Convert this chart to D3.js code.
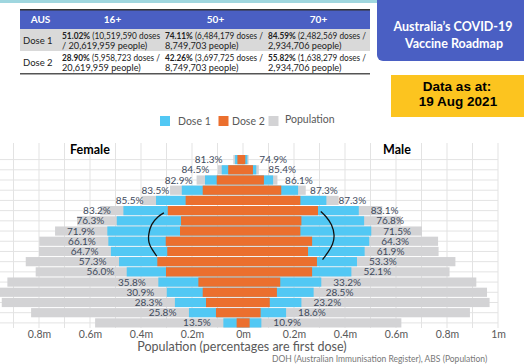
<!DOCTYPE html>
<html><head><meta charset="utf-8">
<script src="https://cdn.jsdelivr.net/npm/d3@7"></script>
<style>html,body{margin:0;padding:0;background:#fff;}svg{display:block;}</style>
</head><body>
<script>
// ---------- DATA ----------
const ageGroups = ["95+","90-94","85-89","80-84","75-79","70-74","65-69","60-64","55-59","50-54","45-49","40-44","35-39","30-34","25-29","20-24","16-19"];
const femalePop   = [0.038,0.098,0.182,0.286,0.397,0.560,0.651,0.737,0.799,0.800,0.852,0.813,0.924,0.968,0.946,0.831,0.580];
const femaleDose1 = [0.031,0.0835,0.149,0.240,0.341,0.469,0.495,0.532,0.528,0.518,0.486,0.456,0.332,0.299,0.267,0.212,0.077];
const femaleDose2 = [0.022,0.058,0.103,0.158,0.225,0.295,0.243,0.247,0.303,0.297,0.336,0.302,0.175,0.158,0.145,0.106,0.025];
const femalePct   = ["81.3%","84.5%","82.9%","83.5%","85.5%","83.2%","76.3%","71.9%","66.1%","64.7%","57.3%","56.0%","35.8%","30.9%","28.3%","25.8%","13.5%"];
const malePop     = [0.022,0.062,0.135,0.246,0.375,0.546,0.620,0.702,0.765,0.767,0.833,0.810,0.915,0.957,0.967,0.890,0.621];
const maleDose1   = [0.017,0.052,0.118,0.216,0.327,0.454,0.475,0.503,0.495,0.477,0.447,0.425,0.307,0.277,0.229,0.169,0.072];
const maleDose2   = [0.009,0.039,0.082,0.150,0.225,0.294,0.229,0.225,0.271,0.255,0.290,0.271,0.146,0.133,0.105,0.069,0.026];
const malePct     = ["74.9%","85.4%","86.1%","87.3%","87.3%","83.1%","76.8%","71.5%","64.3%","61.9%","53.3%","52.1%","33.2%","28.5%","23.2%","18.6%","10.9%"];
const axisTicks   = [-0.8,-0.6,-0.4,-0.2,0,0.2,0.4,0.6,0.8,1];
const legendItems = ["Dose 1","Dose 2","Population"];
// table
const tableCols = ["AUS","16+","50+","70+"];
const tableRows = ["Dose 1","Dose 2"];
const tableCells = [
  [["51.02%"," (10,519,590 doses","/ 20,619,959 people)"],["74.11%"," (6,484,179 doses /","8,749,703 people)"],["84.59%"," (2,482,569 doses /","2,934,706 people)"]],
  [["28.90%"," (5,958,723 doses /","20,619,959 people)"],["42.26%"," (3,697,725 doses /","8,749,703 people)"],["55.82%"," (1,638,279 doses /","2,934,706 people)"]]
];
// hand-drawn annotation curves (x in millions, y in row index)
const leftCurve  = [[-0.310,5.22],[-0.333,5.54],[-0.361,6.34],[-0.371,7.33],[-0.371,8.12],[-0.357,8.81],[-0.338,9.46]];
const rightCurve = [[0.305,5.08],[0.325,5.54],[0.349,6.34],[0.360,7.43],[0.353,8.32],[0.333,9.11],[0.312,9.80]];

// ---------- STYLE ----------
const C = {blue:"#52c8f4", orange:"#eb6f2e", gray:"#d3d3d5", grid:"#e3e3e3", text:"#595959", label:"#3e4a5c"};
const F = "Lato, 'Open Sans', sans-serif";

const svg = d3.select("body").append("svg").attr("width",524).attr("height",364);

// top teal strip
svg.append("rect").attr("x",0).attr("y",0).attr("width",378).attr("height",3).attr("fill","#9fd6df");

// ---------- TABLE ----------
const colX = [20,61,164,267,370];
const tb = svg.append("g");
tb.append("rect").attr("x",20).attr("y",10).attr("width",350).attr("height",19).attr("fill","#4a5fc3");
tb.append("rect").attr("x",20).attr("y",29).attr("width",350).attr("height",22).attr("fill","#d9d9d9");
tb.append("rect").attr("x",20).attr("y",9).attr("width",350).attr("height",1.5).attr("fill","#333");
tb.append("rect").attr("x",20).attr("y",73).attr("width",350).attr("height",1.5).attr("fill","#555");
tableCols.forEach((c,i)=>{
  tb.append("text").attr("x",(colX[i]+colX[i+1])/2).attr("y",23).attr("text-anchor","middle")
    .attr("fill","#fff").attr("font-family",F).attr("font-weight","bold").attr("font-size",10).text(c);
});
const rowTop=[29,51];
tableRows.forEach((r,ri)=>{
  tb.append("text").attr("x",23).attr("y",rowTop[ri]+14.5).attr("fill","#222").attr("font-family",F)
    .attr("font-size",9.5).text(r);
  tableCells[ri].forEach((cell,ci)=>{
    const x0 = colX[ci+1]+1;
    const t1 = tb.append("text").attr("x",x0).attr("y",rowTop[ri]+9.5).attr("fill","#222")
      .attr("font-family",F).attr("font-size",8.6);
    t1.append("tspan").attr("font-weight","bold").text(cell[0]);
    t1.append("tspan").text(cell[1]);
    const t2 = tb.append("text").attr("x",x0).attr("y",rowTop[ri]+20).attr("fill","#222")
      .attr("font-family",F).attr("font-size",9.2).text(cell[2]);
    [t1,t2].forEach(t=>{ if(t.node().getComputedTextLength()>98){ t.attr("textLength",98).attr("lengthAdjust","spacingAndGlyphs"); }});
  });
});

// ---------- TITLE BOXES ----------
svg.append("rect").attr("x",377).attr("y",-10).attr("width",160).attr("height",71).attr("rx",6).attr("fill","#4a5fc3");
svg.append("text").attr("x",453).attr("y",31).attr("text-anchor","middle").attr("fill","#fff")
  .attr("font-family",F).attr("font-weight","bold").attr("font-size",12.5).text("Australia’s COVID-19");
svg.append("text").attr("x",454).attr("y",47.5).attr("text-anchor","middle").attr("fill","#fff")
  .attr("font-family",F).attr("font-weight","bold").attr("font-size",12.5).text("Vaccine Roadmap");
svg.append("rect").attr("x",391).attr("y",75).attr("width",140).attr("height",42).attr("fill","#fcc41f");
svg.append("text").attr("x",457).attr("y",91).attr("text-anchor","middle").attr("fill","#000")
  .attr("font-family","'Liberation Sans', Arial, sans-serif").attr("font-weight","bold").attr("font-size",13.5).text("Data as at:");
svg.append("text").attr("x",458).attr("y",106).attr("text-anchor","middle").attr("fill","#000")
  .attr("font-family","'Liberation Sans', Arial, sans-serif").attr("font-weight","bold").attr("font-size",13.5).text("19 Aug 2021");

// ---------- LEGEND ----------
const legX = [160,218.5,268.5], legColors=[C.blue,C.orange,C.gray], legTX=[178,232,285];
legendItems.forEach((d,i)=>{
  svg.append("rect").attr("x",legX[i]).attr("y",116).attr("width",10).attr("height",10).attr("fill",legColors[i]);
  svg.append("text").attr("x",legTX[i]).attr("y",i==2?123:124.5).attr("fill",C.text).attr("font-family",F)
    .attr("font-size",10.5).text(d);
});

// ---------- PYRAMID ----------
const x = d3.scaleLinear().domain([-1,1]).range([-12,498]);
const y = d3.scaleBand().domain(ageGroups).range([155,327.5]).paddingInner(0.1);
const plotTop=143, plotBottom=328;

// vertical gridlines
const gl = d3.range(-9,11).map(i=>i/10);
svg.append("g").selectAll("line").data(gl).join("line")
  .attr("x1",d=>x(d)).attr("x2",d=>x(d)).attr("y1",plotTop).attr("y2",plotBottom)
  .attr("stroke",C.grid).attr("stroke-width",1);
// horizontal gridlines
svg.append("g").selectAll("line").data(ageGroups).join("line")
  .attr("x1",0).attr("x2",x(1)).attr("y1",d=>y(d)+y.bandwidth()/2).attr("y2",d=>y(d)+y.bandwidth()/2)
  .attr("stroke",C.grid).attr("stroke-width",1);

function side(vals, color, sign){
  svg.append("g").selectAll("rect").data(vals).join("rect")
    .attr("x",d=> sign<0 ? x(-d) : x(0))
    .attr("width",d=> sign<0 ? x(0)-x(-d) : x(d)-x(0))
    .attr("y",(d,i)=>y(ageGroups[i])).attr("height",y.bandwidth())
    .attr("fill",color);
}
side(femalePop,C.gray,-1); side(malePop,C.gray,1);
side(femaleDose1,C.blue,-1); side(maleDose1,C.blue,1);
side(femaleDose2,C.orange,-1); side(maleDose2,C.orange,1);

// labels
svg.append("g").selectAll("text").data(femalePct).join("text")
  .attr("x",(d,i)=>x(-femaleDose1[i])-12.5).attr("y",(d,i)=>y(ageGroups[i])+y.bandwidth()/2)
  .attr("dy","0.35em").attr("text-anchor","end").attr("fill",C.label).attr("font-family",F).attr("font-size",10)
  .text(d=>d);
svg.append("g").selectAll("text").data(malePct).join("text")
  .attr("x",(d,i)=>x(maleDose1[i])+12).attr("y",(d,i)=>y(ageGroups[i])+y.bandwidth()/2)
  .attr("dy","0.35em").attr("text-anchor","start").attr("fill",C.label).attr("font-family",F).attr("font-size",10)
  .text(d=>d);

// Female / Male headers
svg.append("text").attr("x",90).attr("y",154).attr("text-anchor","middle").attr("font-family",F)
  .attr("font-weight","bold").attr("font-size",12.5).attr("fill","#000").text("Female");
svg.append("text").attr("x",397).attr("y",154).attr("text-anchor","middle").attr("font-family",F)
  .attr("font-weight","bold").attr("font-size",12.5).attr("fill","#000").text("Male");

// annotation curves
const rowY = r => y(ageGroups[0]) + y.bandwidth()/2 + r*y.step();
const lineGen = d3.line().x(d=>x(d[0])).y(d=>rowY(d[1])).curve(d3.curveBasis);
[leftCurve,rightCurve].forEach(c=>{
  svg.append("path").attr("d",lineGen(c)).attr("fill","none").attr("stroke","#111").attr("stroke-width",1.3);
});

// axis
const ax = svg.append("g").attr("transform",`translate(0,${plotBottom})`)
  .call(d3.axisBottom(x).tickValues(axisTicks).tickSize(0).tickPadding(3)
    .tickFormat(d=> (Math.round(Math.abs(d)*10)/10) + "m"));
ax.select(".domain").remove();
ax.selectAll("text").attr("fill",C.text).attr("font-family",F).attr("font-size",10.5);

svg.append("text").attr("x",242).attr("y",351).attr("text-anchor","middle").attr("fill",C.text)
  .attr("font-family",F).attr("font-size",12.5).text("Population (percentages are first dose)");

svg.append("text").attr("x",272).attr("y",362).attr("fill","#777").attr("font-family",F).attr("font-size",8.5)
  .text("DOH (Australian Immunisation Register), ABS (Population)");
</script>
</body></html>
